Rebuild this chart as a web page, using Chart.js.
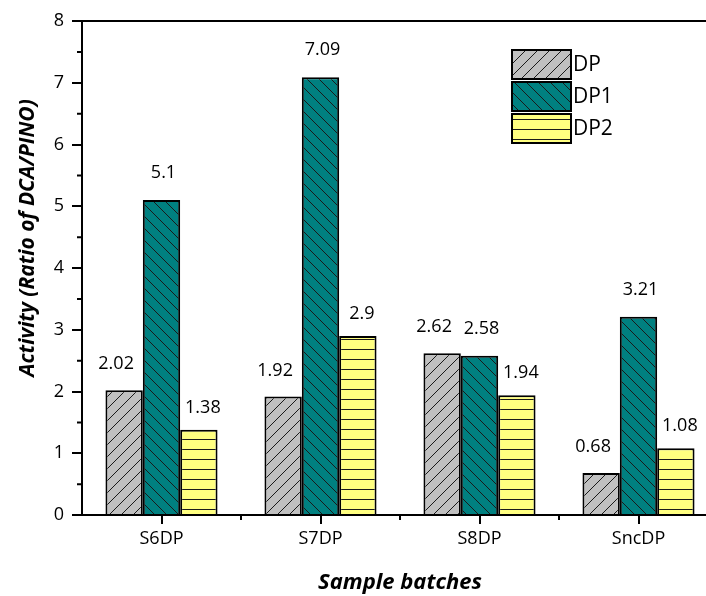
<!DOCTYPE html>
<html>
<head>
<meta charset="utf-8">
<script src="https://cdn.jsdelivr.net/npm/chart.js@4.4.1/dist/chart.umd.min.js"></script>
<style>
html,body{margin:0;padding:0;background:#fff;overflow:hidden;}
#wrap{width:706px;height:596px;overflow:hidden;}
canvas{display:block;}
</style>
</head>
<body>
<div id="wrap"><canvas id="c" width="730" height="596"></canvas></div>
<script>

let batches = ["S6DP","S7DP","S8DP","SncDP"];

let dpValues  = [2.02,1.92,2.62,0.68];
let dp1Values = [5.1,7.09,2.58,3.21];
let dp2Values = [1.38,2.9,1.94,1.08];

let seriesNames = ["DP","DP1","DP2"];

let yMin = 0, yMax = 8, yStep = 1;

const FONT = "'Open Sans', sans-serif";

/* pola arsiran untuk batang */
function makeHatch(bg, kind){

   let w = 12, h = kind === "h" ? 10 : 12;

   let c = document.createElement("canvas");
   c.width = w; c.height = h;

   let g = c.getContext("2d");
   g.fillStyle = bg;
   g.fillRect(0,0,w,h);

   g.strokeStyle = "#1a1a1a";
   g.lineWidth = 1;
   g.beginPath();

   if(kind === "/"){
      g.moveTo(-1,h+1); g.lineTo(w+1,-1);
      g.moveTo(-1,1); g.lineTo(1,-1);
      g.moveTo(w-1,h+1); g.lineTo(w+1,h-1);
   } else if(kind === "\\"){
      g.moveTo(-1,-1); g.lineTo(w+1,h+1);
      g.moveTo(w-1,-1); g.lineTo(w+1,1);
      g.moveTo(-1,h-1); g.lineTo(1,h+1);
   } else {
      g.moveTo(0,h-0.5); g.lineTo(w,h-0.5);
   }

   g.stroke();

   return g.createPattern(c,"repeat");

}

let hatchDP  = makeHatch("#C0C0C0","/");
let hatchDP1 = makeHatch("#008080","\\");
let hatchDP2 = makeHatch("#FFFF80","h");

/* offset label angka per seri */
let labelShift = [
   {dx:-8, dy:26},
   {dx:2,  dy:27},
   {dx:4,  dy:22}
];

let extrasPlugin = {

   id:"extras",

   afterDatasetsDraw:function(chart){

      let ctx = chart.ctx;
      let area = chart.chartArea;
      let xs = chart.scales.x;
      let ys = chart.scales.y;

      ctx.save();

      /* garis atas */
      ctx.strokeStyle = "#000";
      ctx.lineWidth = 2;
      ctx.beginPath();
      ctx.moveTo(area.left-1, area.top);
      ctx.lineTo(area.right, area.top);
      ctx.stroke();

      /* minor tick y */
      ctx.beginPath();
      for(let v = yMin + yStep/2; v < yMax; v += yStep){
         let y = ys.getPixelForValue(v);
         ctx.moveTo(area.left, y);
         ctx.lineTo(area.left-5, y);
      }
      /* minor tick x di batas kategori */
      for(let i = 1; i < batches.length; i++){
         let x = (xs.getPixelForValue(i-1) + xs.getPixelForValue(i))/2;
         ctx.moveTo(x, area.bottom);
         ctx.lineTo(x, area.bottom+5);
      }
      ctx.stroke();

      /* label nilai */
      ctx.fillStyle = "#000";
      ctx.font = "18px " + FONT;
      ctx.textAlign = "center";
      ctx.textBaseline = "middle";

      chart.data.datasets.forEach(function(ds, di){

         let meta = chart.getDatasetMeta(di);

         meta.data.forEach(function(bar, i){

            ctx.fillText(
               String(ds.data[i]),
               bar.x + labelShift[di].dx,
               bar.y - labelShift[di].dy
            );

         });

      });

      /* judul sumbu y */
      ctx.save();
      ctx.translate(28, 238);
      ctx.rotate(-Math.PI/2);
      ctx.font = "italic bold 21px " + FONT;
      ctx.fillText("Activity (Ratio of DCA/PINO)", 0, 0);
      ctx.restore();

      /* legenda */
      let lx = 512, ly = 50, bw = 59, bh = 29, gap = 3;

      chart.data.datasets.forEach(function(ds, di){

         let y = ly + di*(bh+gap);

         ctx.fillStyle = ds.backgroundColor;
         ctx.fillRect(lx, y, bw, bh);
         ctx.strokeStyle = "#000";
         ctx.lineWidth = 2;
         ctx.strokeRect(lx, y, bw, bh);

         ctx.fillStyle = "#000";
         ctx.font = "21px " + FONT;
         ctx.textAlign = "left";
         ctx.fillText(ds.label, lx + bw + 2, y + bh/2 + 1);

      });

      ctx.restore();

   }

};

let barStyle = {
   borderColor:"#000",
   borderWidth:2,
   barPercentage:1,
   categoryPercentage:0.705
};

let chart = new Chart(document.getElementById("c"), {

   type:"bar",

   data:{
      labels:batches,
      datasets:[
         Object.assign({label:seriesNames[0], data:dpValues,  backgroundColor:hatchDP},  barStyle),
         Object.assign({label:seriesNames[1], data:dp1Values, backgroundColor:hatchDP1}, barStyle),
         Object.assign({label:seriesNames[2], data:dp2Values, backgroundColor:hatchDP2}, barStyle)
      ]
   },

   options:{

      responsive:false,
      animation:false,

      layout:{padding:{left:0,right:12,top:21,bottom:0}},

      plugins:{
         legend:{display:false},
         tooltip:{enabled:false}
      },

      scales:{

         x:{
            grid:{drawOnChartArea:false, offset:false, tickLength:9, color:"#000", lineWidth:2},
            border:{display:true, color:"#000", width:2},
            ticks:{color:"#000", font:{family:FONT, size:18}, padding:4},
            title:{
               display:true,
               text:"Sample batches",
               color:"#000",
               font:{family:FONT, size:22, weight:"bold", style:"italic"},
               padding:{top:0, bottom:0}
            },
            afterFit:function(s){ s.height = 81; }
         },

         y:{
            min:yMin,
            max:yMax,
            ticks:{stepSize:yStep, color:"#000", font:{family:FONT, size:18}, padding:8},
            grid:{drawOnChartArea:false, tickLength:10, color:"#000", lineWidth:2},
            border:{display:true, color:"#000", width:2},
            afterFit:function(s){ s.width = 82; }
         }

      }

   },

   plugins:[extrasPlugin]

});

</script>
</body>
</html>
